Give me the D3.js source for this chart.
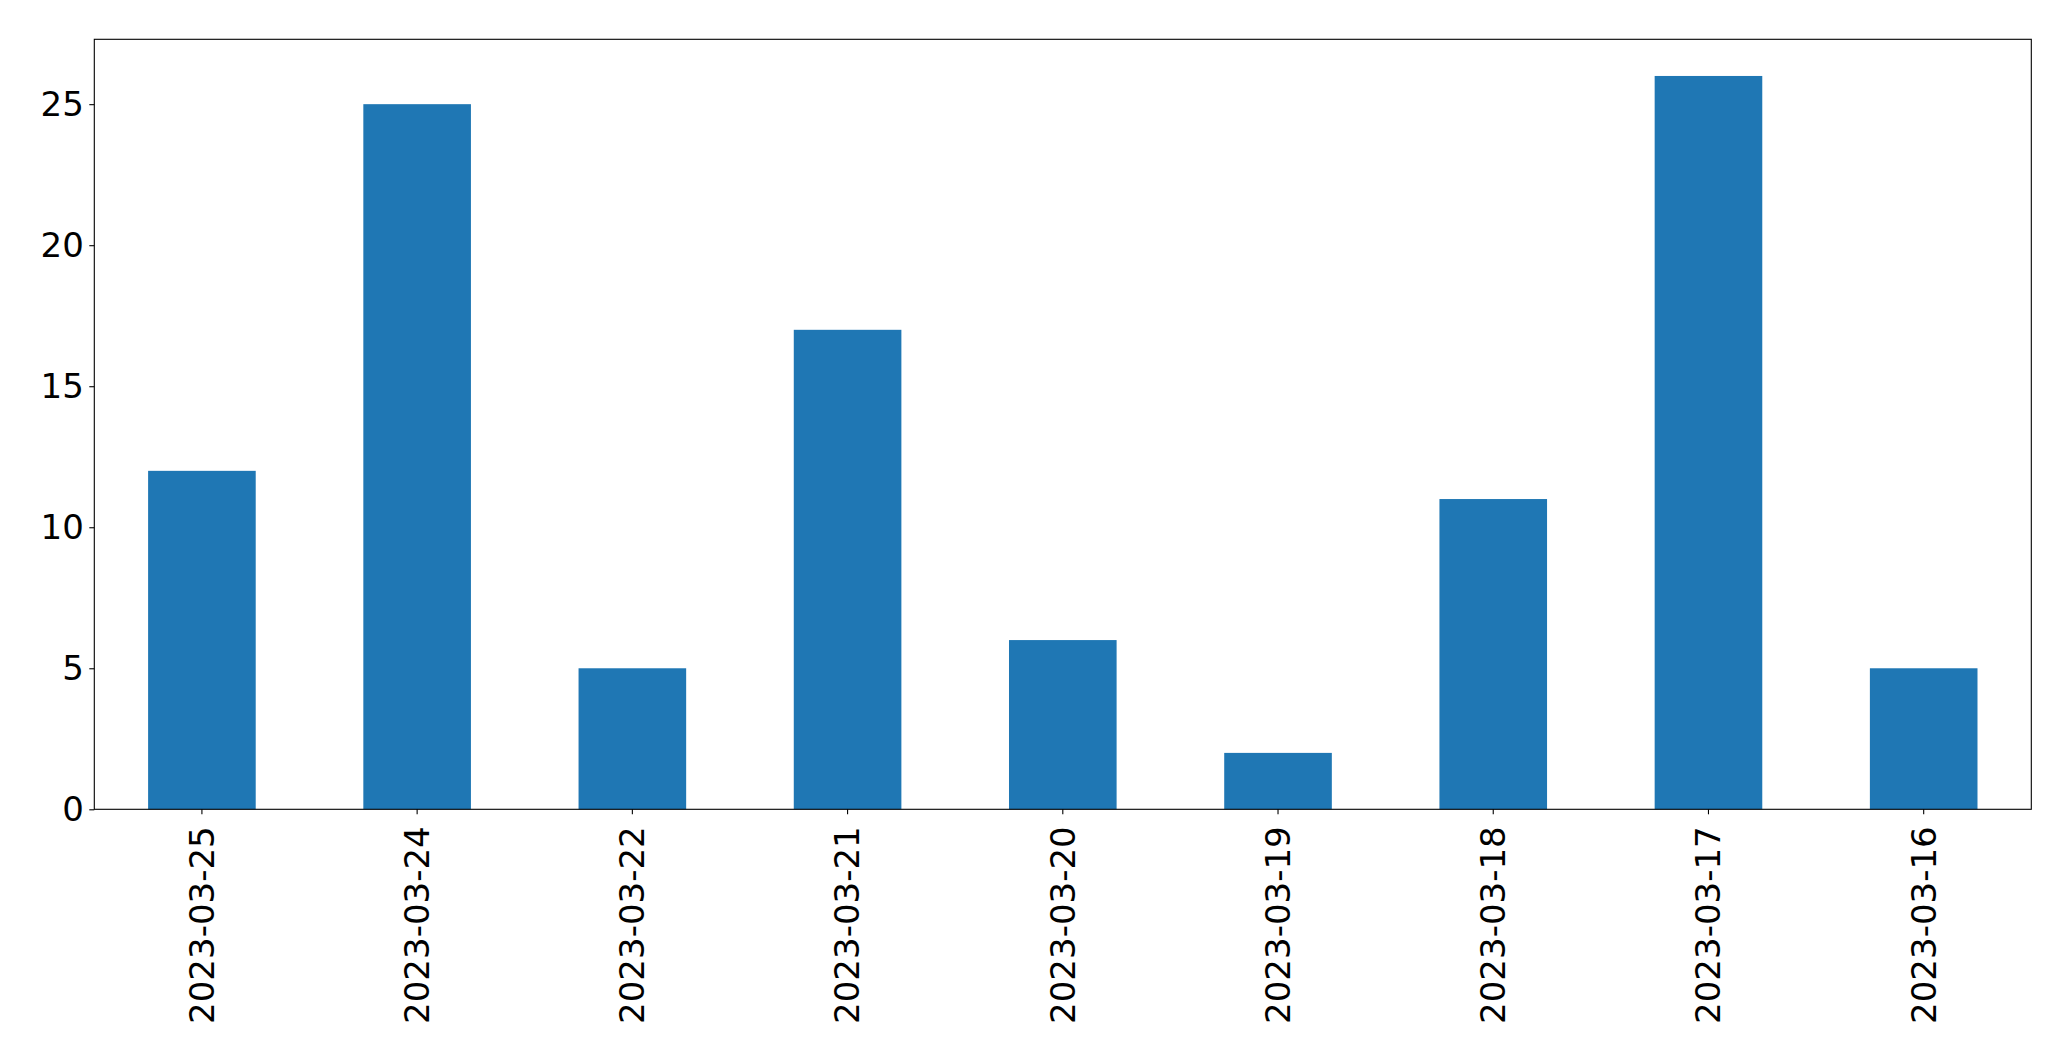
<!DOCTYPE html>
<html>
<head>
<meta charset="utf-8">
<script src="https://cdn.jsdelivr.net/npm/d3@7"></script>
<style>
  html, body { margin: 0; padding: 0; background: #fff; }
  svg { display: block; }
</style>
</head>
<body>
<script>
const categories = ["2023-03-25","2023-03-24","2023-03-22","2023-03-21","2023-03-20","2023-03-19","2023-03-18","2023-03-17","2023-03-16"];
const values = [12, 25, 5, 17, 6, 2, 11, 26, 5];
const yTicks = [0, 5, 10, 15, 20, 25];

(function () {
const W = 2071, H = 1061;
const mLeft = 94.3, mRight = 2031.3, mTop = 39.3, mBottom = 809.3;
const fontSize = 34;

const svg = d3.select("body").append("svg").attr("width", W).attr("height", H);

const x = d3.scaleBand().domain(categories).range([mLeft, mRight]).paddingInner(0.5).paddingOuter(0.25);
const yMax = d3.max(values) * 1.05;
const y = d3.scaleLinear().domain([0, yMax]).range([mBottom, mTop]);

svg.append("g").selectAll("rect").data(values).join("rect")
  .attr("x", (d, i) => x(categories[i]))
  .attr("width", x.bandwidth())
  .attr("y", d => y(d))
  .attr("height", d => y(0) - y(d))
  .attr("fill", "#1f77b4");

svg.append("rect").attr("x", mLeft).attr("y", mTop).attr("width", mRight - mLeft).attr("height", mBottom - mTop)
  .attr("fill", "none").attr("stroke", "#000").attr("stroke-width", 1.1);

const yAxis = svg.append("g").attr("transform", `translate(${mLeft},0)`)
  .call(d3.axisLeft(y).tickValues(yTicks).tickSize(5).tickPadding(5.5).tickFormat(d3.format("d")));
yAxis.select(".domain").remove();
yAxis.selectAll("line").attr("stroke", "#000").attr("stroke-width", 1.1);
yAxis.selectAll("text").attr("font-family", "DejaVu Sans").attr("font-size", fontSize).attr("fill", "#000");

const xAxis = svg.append("g").attr("transform", `translate(0,${mBottom})`)
  .call(d3.axisBottom(x).tickSize(5).tickPadding(0));
xAxis.select(".domain").remove();
xAxis.selectAll("line").attr("stroke", "#000").attr("stroke-width", 1.1);
xAxis.selectAll("text")
  .attr("font-family", "DejaVu Sans").attr("font-size", fontSize).attr("fill", "#000")
  .attr("transform", "translate(0,17) rotate(-90)")
  .attr("x", 0).attr("y", 0).attr("dy", "0.35em")
  .attr("text-anchor", "end");
})();
</script>
</body>
</html>
